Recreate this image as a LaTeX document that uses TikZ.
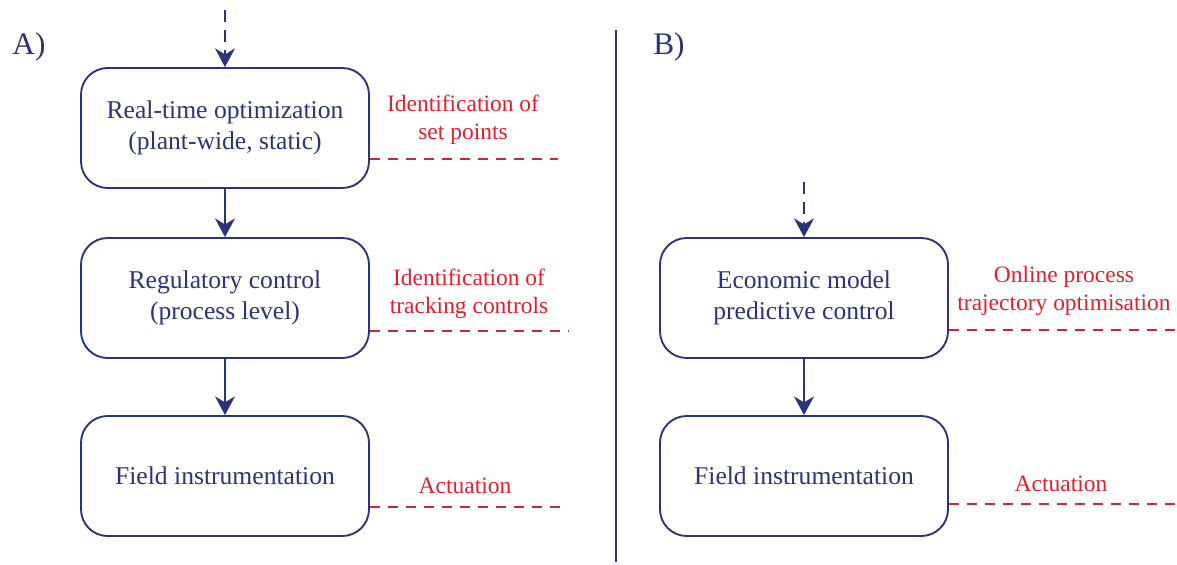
\documentclass[tikz,border=0pt]{standalone}
\usepackage{fontspec}
\setmainfont{Liberation Serif}
\usetikzlibrary{arrows.meta}
\definecolor{navy}{HTML}{29347A}
\definecolor{redtxt}{HTML}{E0202A}
\definecolor{redline}{HTML}{C42A36}
\tikzset{
  box/.style={draw=navy, line width=1.4pt, rounded corners=20pt, minimum width=216pt, minimum height=90pt, align=center, text=navy, font=\fontsize{19.2}{23}\selectfont, inner sep=0pt},
  note/.style={text=redtxt, align=center, font=\fontsize{17.6}{21}\selectfont, inner sep=0pt},
  flow/.style={draw=navy, line width=1.4pt, -{Stealth[length=14pt, width=15pt, inset=4.5pt]}},
  inflow/.style={flow, dash pattern=on 9pt off 6pt},
  redash/.style={draw=redline, line width=1.1pt, dash pattern=on 7.5pt off 6pt},
  panel/.style={text=navy, font=\fontsize{23.5}{28}\selectfont, inner sep=0pt}
}
\begin{document}
\begin{tikzpicture}[x=0.75pt,y=-0.75pt]
\useasboundingbox (0,0) rectangle (1177,564);
% labels
\node[panel] (labA) at (29,47) {A)};
\node[panel] (labB) at (669,47) {B)};
% separator
\coordinate (sepT) at (616,30);
\coordinate (sepB) at (616,562);
\draw[navy, line width=1.4pt] (sepT) -- (sepB);
% A column
\node[box] (A1) at (225,128) {Real-time optimization\\(plant-wide, static)};
\node[box] (A2) at (225,298) {Regulatory control\\(process level)};
\node[box] (A3) at (225,476) {Field instrumentation};
\coordinate (inA) at (225,10);
\draw[inflow] (inA) -- (A1.north);
\draw[flow] (A1.south) -- (A2.north);
\draw[flow] (A2.south) -- (A3.north);
% B column
\node[box] (B1) at (804,298) {Economic model\\predictive control};
\node[box] (B2) at (804,476) {Field instrumentation};
\coordinate (inB) at (804,182);
\draw[inflow] (inB) -- (B1.north);
\draw[flow] (B1.south) -- (B2.north);
% notes
\node[note] (nA1) at (463,120) {Identification of\\set points};
\node[note] (nA2) at (469,294) {Identification of\\tracking controls};
\node[note] (nA3) at (465,486) {Actuation};
\node[note] (nB1) at (1064,291) {Online process\\trajectory optimisation};
\node[note] (nB2) at (1061,484) {Actuation};
% red dashed lines
\coordinate (eA1) at (558,159);
\coordinate (eA2) at (568,331);
\coordinate (eA3) at (562,507);
\coordinate (eB1) at (1177,330);
\coordinate (eB2) at (1175,504);
\draw[redash] (A1.east |- eA1) -- (eA1);
\draw[redash] (A2.east |- eA2) -- (eA2);
\draw[redash] (A3.east |- eA3) -- (eA3);
\draw[redash] (B1.east |- eB1) -- (eB1);
\draw[redash] (B2.east |- eB2) -- (eB2);
\end{tikzpicture}
\end{document}
